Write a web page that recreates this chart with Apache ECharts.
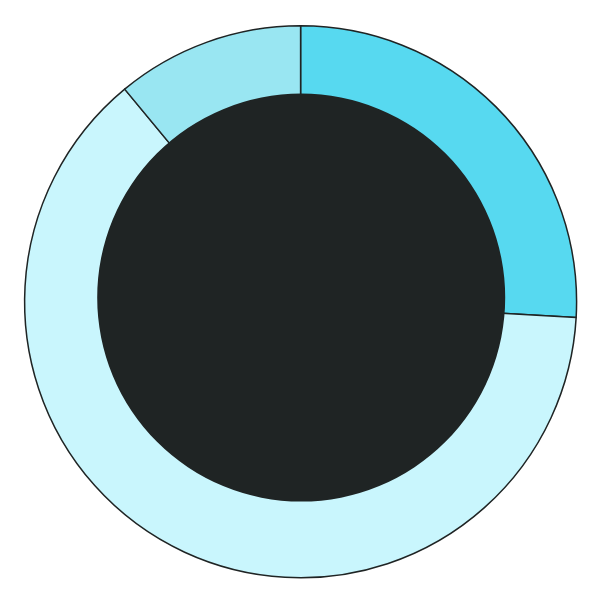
<!DOCTYPE html>
<html>
<head>
<meta charset="UTF-8">
<title>Donut</title>
<script src="https://cdn.jsdelivr.net/npm/echarts@6/dist/echarts.min.js"></script>
<style>
  html, body { margin: 0; padding: 0; background: #fff; }
  #chart { width: 600px; height: 600px; }
</style>
</head>
<body>
<div id="chart"></div>
<script>
var sliceNames = ['A', 'B', 'C'];
var sliceValues = [25.9, 63.1, 11.0];
var sliceColors = ['#57d9f0', '#c9f6fd', '#99e6f2'];

var chart = echarts.init(document.getElementById('chart'));
var data = [];
for (var i = 0; i < sliceNames.length; i++) {
  data.push({ name: sliceNames[i], value: sliceValues[i], itemStyle: { color: sliceColors[i] } });
}
chart.setOption({
  animation: false,
  series: [
    {
      type: 'pie',
      center: ['50.1%', '50.3%'],
      radius: [0, '92%'],
      startAngle: 90,
      clockwise: true,
      label: { show: false },
      labelLine: { show: false },
      emphasis: { disabled: true },
      itemStyle: { borderColor: '#1f2424', borderWidth: 1.5 },
      data: data
    },
    {
      type: 'pie',
      center: ['50.2%', '49.6%'],
      radius: [0, '68%'],
      silent: true,
      label: { show: false },
      labelLine: { show: false },
      itemStyle: { color: '#1f2424' },
      data: [{ name: 'core', value: 1 }]
    }
  ]
});
</script>
</body>
</html>
